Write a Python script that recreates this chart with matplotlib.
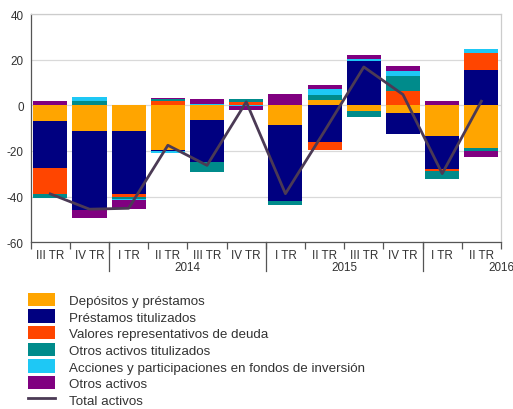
import matplotlib
matplotlib.use("Agg")
import matplotlib.pyplot as plt
import matplotlib.transforms as mtransforms
from matplotlib.patches import Patch
from matplotlib.lines import Line2D
import numpy as np

plt.rcParams['font.family'] = ['Liberation Sans', 'DejaVu Sans']
plt.rcParams['axes.unicode_minus'] = False

quarters = ["III TR", "IV TR", "I TR", "II TR", "III TR", "IV TR",
            "I TR", "II TR", "III TR", "IV TR", "I TR", "II TR"]
years = ["2014", "2015", "2016"]

depositos = [-6.7, -11.4, -11.4, -19.4, -6.6, 0.0, -8.8, 2.4, -2.6, -3.3, -13.6, -18.7]
prestamos_tit = [-20.7, -34.6, -27.6, -0.7, -18.4, 0.0, -33.3, -16.2, 19.6, -9.2, -14.3, 15.3]
valores = [-11.4, 0.0, -1.0, 2.0, 0.0, 1.4, 0.0, -3.2, 0.0, 6.1, -1.0, 7.6]
otros_tit = [-2.0, 2.1, -1.0, 0.6, -4.4, 1.2, -1.75, 2.2, -2.3, 6.6, -3.2, -1.2]
acciones = [0.0, 1.6, -0.6, -1.0, 0.5, -0.5, 0.0, 2.5, 0.9, 2.2, 0.0, 1.75]
otros = [1.9, -3.4, -3.7, 0.8, 2.3, -1.7, 4.8, 1.6, 1.4, 2.2, 1.75, -2.8]
total = [-38.8, -45.5, -45.1, -17.5, -26.3, 1.5, -38.7, -11.2, 16.8, 4.7, -29.9, 1.8]

series = [
    ("Depósitos y préstamos", depositos, "#FFA500"),
    ("Préstamos titulizados", prestamos_tit, "#000080"),
    ("Valores representativos de deuda", valores, "#FF4500"),
    ("Otros activos titulizados", otros_tit, "#008B8B"),
    ("Acciones y participaciones en fondos de inversión", acciones, "#1EC8F5"),
    ("Otros activos", otros, "#800080"),
]
line_color = "#4B3A55"

fig = plt.figure(figsize=(5.13, 4.10), dpi=100)
ax = fig.add_axes([0.0598, 0.4066, 0.9168, 0.5568])

x = np.arange(len(quarters))
pos_base = np.zeros(len(x))
neg_base = np.zeros(len(x))
for name, vals, col in series:
    v = np.array(vals, dtype=float)
    pos = np.where(v > 0, v, 0)
    neg = np.where(v < 0, v, 0)
    ax.bar(x, pos, bottom=pos_base, width=0.87, color=col, linewidth=0, zorder=3)
    ax.bar(x, neg, bottom=neg_base, width=0.87, color=col, linewidth=0, zorder=3)
    pos_base += pos
    neg_base += neg

ax.plot(x, total, color=line_color, linewidth=2, zorder=4)

ax.set_xlim(-0.5, 11.5)
ax.set_ylim(-60, 40)
ax.set_yticks([-60, -40, -20, 0, 20, 40])
ax.yaxis.grid(True, color="#D9D9D9", linewidth=0.9, zorder=0)
ax.set_axisbelow(True)
ax.tick_params(axis='y', length=0, pad=5, labelsize=8.4, labelcolor="#333333")

ax.set_xticks(x)
ax.set_xticklabels(quarters)
ax.tick_params(axis='x', which='major', length=0, pad=5, labelsize=8.4, labelcolor="#333333")
ax.set_xticks(np.arange(-0.5, 12, 1.0), minor=True)
ax.tick_params(axis='x', which='minor', length=5, width=0.9, color="#555555")

for s in ['top', 'right']:
    ax.spines[s].set_color("#CCCCCC")
    ax.spines[s].set_linewidth(0.9)
for s in ['left', 'bottom']:
    ax.spines[s].set_color("#555555")
    ax.spines[s].set_linewidth(0.9)

trans = mtransforms.blended_transform_factory(ax.transData, ax.transAxes)
for b in [1.5, 5.5, 9.5]:
    ax.plot([b, b], [0, -0.127], transform=trans, color="#555555", linewidth=0.9, clip_on=False)

year_x = [3.5, 7.5, 11.5]
for yx, yl in zip(year_x, years):
    ax.text(yx, -0.108, yl, transform=trans, ha='center', va='center', fontsize=8.4, color="#333333")

handles = [Patch(facecolor=col, edgecolor='none', label=name) for name, _, col in series]
handles.append(Line2D([0], [0], color=line_color, linewidth=2, label="Total activos"))
fig.legend(handles=handles, loc='upper left', bbox_to_anchor=(0.0546, 0.2835), frameon=False,
           fontsize=9.6, handlelength=2.05, handleheight=1.15, labelspacing=0.19,
           handletextpad=1.0, borderaxespad=0, borderpad=0, labelcolor="#333333")

fig.savefig("out.png", dpi=100)
